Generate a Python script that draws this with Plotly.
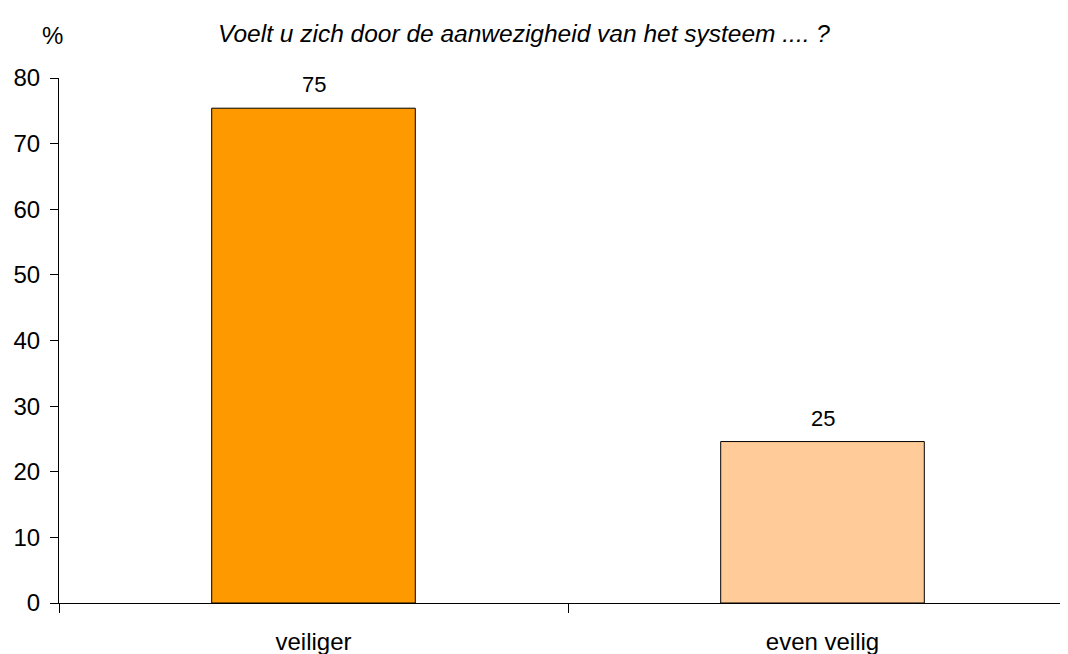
import plotly.graph_objects as go

categories = ["veiliger", "even veilig"]
values = [75.4, 24.6]
bar_colors = ["#FF9900", "#FFCC99"]
title_text = "Voelt u zich door de aanwezigheid van het systeem .... ?"
y_ticks = [0, 10, 20, 30, 40, 50, 60, 70, 80]

FONT = "Liberation Sans, Arial, sans-serif"

# page body has an 8px margin; figure is sized so the plot area lands where it should
W, H = 1072, 646
ML, MT, MB, MR = 51, 70, 51, 0
PW = W - ML - MR
PH = H - MT - MB
UNIT = 509  # px per category

fig = go.Figure()
fig.add_trace(go.Bar(
    x=categories,
    y=values,
    width=0.4,
    marker=dict(color=bar_colors, line=dict(color="black", width=1)),
    hoverinfo="skip",
))

for c, v in zip(categories, values):
    fig.add_annotation(
        x=c, y=v, text=f"{v:.0f}", showarrow=False,
        yanchor="bottom", yshift=9,
        font=dict(family=FONT, size=22, color="black"),
    )

fig.update_layout(
    width=W, height=H,
    margin=dict(l=ML, r=MR, t=MT, b=MB, autoexpand=False),
    plot_bgcolor="white", paper_bgcolor="white",
    showlegend=False,
    font=dict(family=FONT, size=24, color="black"),
    title=dict(
        text="<i>" + title_text + "</i>",
        x=(524 - 8) / W, xref="container", xanchor="center",
        y=1 - (33 - 8) / H, yref="container", yanchor="middle",
        font=dict(family=FONT, size=24.5, color="black"),
    ),
)

fig.update_xaxes(
    range=[-0.5, -0.5 + PW / UNIT],
    showline=True, linecolor="black", linewidth=1,
    ticks="outside", tickson="boundaries", ticklen=9, tickcolor="black",
    showgrid=False, zeroline=False, automargin=False,
    tickfont=dict(family=FONT, size=24, color="black"),
    ticklabelstandoff=17,
)
fig.update_yaxes(
    range=[0, 80],
    tickvals=y_ticks,
    showline=True, linecolor="black", linewidth=1,
    ticks="outside", ticklen=8, tickcolor="black",
    showgrid=False, zeroline=False, automargin=False,
    tickfont=dict(family=FONT, size=24, color="black"),
    ticklabelstandoff=5,
)

fig.add_annotation(
    text="%", xref="paper", yref="paper",
    x=(52 - 59) / PW, y=(603 - 36) / PH,
    xanchor="center", yanchor="middle", showarrow=False,
    font=dict(family=FONT, size=24, color="black"),
)

fig.write_html("out.html")
